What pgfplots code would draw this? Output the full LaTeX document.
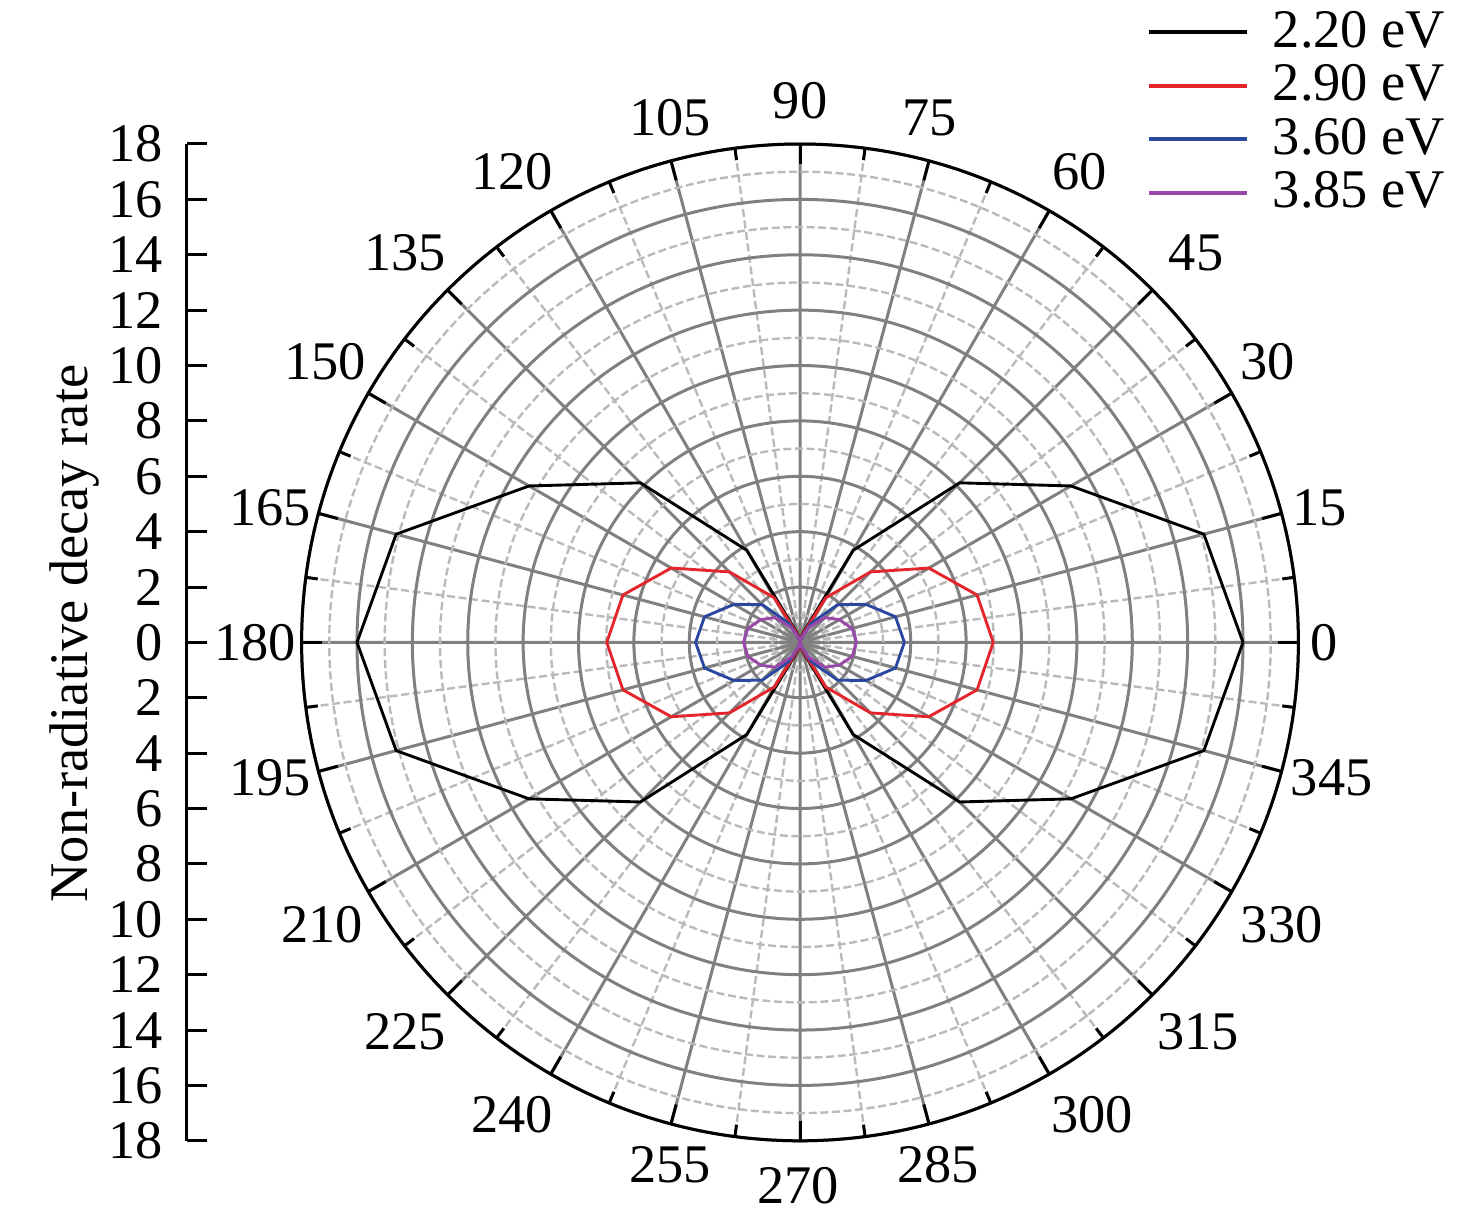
\documentclass[border=0pt]{standalone}
\usepackage{fontspec}
\setmainfont{Liberation Serif}
\usepackage{pgfplots}
\pgfplotsset{compat=1.18}
\usepgfplotslibrary{polar}
\definecolor{cRed}{RGB}{228,38,44}
\definecolor{cBlue}{RGB}{42,72,160}
\definecolor{cPurple}{RGB}{152,72,168}
\begin{document}
\begin{tikzpicture}[font=\fontsize{13.6}{16}\selectfont]
\useasboundingbox (0,0) rectangle (369pt,305.5pt);
% left linear radial scale
\begin{axis}[
  at={(46.675pt,144.9pt)}, anchor=west,
  scale only axis, width=1pt, height=249.2pt,
  hide x axis, axis y line*=left,
  ymin=-18, ymax=18, xmin=0, xmax=1,
  ytick={-18,-16,...,18},
  yticklabels={18,16,14,12,10,8,6,4,2,0,2,4,6,8,10,12,14,16,18},
  tick align=inside, major tick length=5pt,
  y axis line style={line width=0.75pt, black},
  ytick style={line width=0.75pt, black},
  yticklabel style={inner xsep=5.8pt, inner ysep=0pt},
  /pgf/number format/assume math mode=true,
]
\end{axis}
\node[rotate=90, inner sep=0pt] at (18.5pt,147.1pt) {Non-radiative decay rate};
\begin{polaraxis}[
  at={(200pt,144.9pt)}, anchor=center,
  scale only axis, width=249.2pt, height=249.2pt,
  xmin=0, xmax=360, ymin=0, ymax=18,
  xtick={0,15,...,360}, ytick={0,2,...,18},
  minor x tick num=1, minor y tick num=1,
  xticklabels={}, yticklabels={},
  grid=both,
  major grid style={line width=0.75pt, color=black!50},
  minor grid style={line width=0.6pt, color=black!27, dash pattern=on 2pt off 0.9pt},
  x axis line style={line width=0.75pt, black},
  y axis line style={draw=none},
  major tick length=0pt, minor tick length=0pt,
  tick style={draw=none},
  clip=false,
  legend style={at={(1.148,1.134)}, anchor=north east, draw=none, fill=none,
    inner sep=0pt, row sep=2.82pt, column sep=6pt, nodes={inner sep=0pt}},
  legend cell align=left,
  legend image code/.code={\draw[#1, line width=1pt] (0pt,0pt) -- (24.5pt,0pt);},
]
\addplot[black, line width=0.72pt] coordinates {
(0,16.0) (15,15.1) (30,11.3) (45,8.15) (60,3.84) (75,0.3) (90,0)
(105,0.3) (120,3.84) (135,8.15) (150,11.3) (165,15.1) (180,16.0)
(195,15.1) (210,11.3) (225,8.15) (240,3.84) (255,0.3) (270,0)
(285,0.3) (300,3.84) (315,8.15) (330,11.3) (345,15.1) (360,16.0)};
\addlegendentry{2.20 eV}
\addplot[cRed, line width=0.72pt] coordinates {
(0,6.98) (15,6.62) (30,5.37) (45,3.6) (60,1.86) (75,0.25) (90,0)
(105,0.25) (120,1.86) (135,3.6) (150,5.37) (165,6.62) (180,6.98)
(195,6.62) (210,5.37) (225,3.6) (240,1.86) (255,0.25) (270,0)
(285,0.25) (300,1.86) (315,3.6) (330,5.37) (345,6.62) (360,6.98)};
\addlegendentry{2.90 eV}
\addplot[cBlue, line width=0.72pt] coordinates {
(0,3.77) (15,3.57) (30,2.75) (45,1.93) (60,0.8) (75,0.15) (90,0)
(105,0.15) (120,0.8) (135,1.93) (150,2.75) (165,3.57) (180,3.77)
(195,3.57) (210,2.75) (225,1.93) (240,0.8) (255,0.15) (270,0)
(285,0.15) (300,0.8) (315,1.93) (330,2.75) (345,3.57) (360,3.77)};
\addlegendentry{3.60 eV}
\addplot[cPurple, line width=0.72pt] coordinates {
(0,2.04) (15,1.95) (30,1.64) (45,1.27) (60,0.6) (75,0.12) (90,0)
(105,0.12) (120,0.6) (135,1.27) (150,1.64) (165,1.95) (180,2.04)
(195,1.95) (210,1.64) (225,1.27) (240,0.6) (255,0.12) (270,0)
(285,0.12) (300,0.6) (315,1.27) (330,1.64) (345,1.95) (360,2.04)};
\addlegendentry{3.85 eV}
% outer-circle tick marks (pointing inward)
\pgfplotsinvokeforeach{0,15,...,345}{
  \draw[line width=0.75pt, black] (axis cs:#1,18) -- (axis cs:#1,17.278);
}
\pgfplotsinvokeforeach{7.5,22.5,...,352.5}{
  \draw[line width=0.75pt, black] (axis cs:#1,18) -- (axis cs:#1,17.567);
}
% angular labels
\foreach \t/\a/\r in {0/0/18.92,15/14.5/19.39,30/30.93/19.70,45/44.52/20.06,60/59.24/19.77,75/76.08/19.51,90/90/19.55,105/103.92/19.51,120/121.47/19.92,135/135.4/20.03,150/149.44/19.92,165/165.76/19.74,180/180/19.68,195/194.34/19.75,210/210.58/20.05,225/224.6/20.03,240/238.63/19.98,255/256.03/19.44,270/269.8/19.63,285/284.8/19.51,300/301.7/20.06,315/315.6/20.11,330/329.6/20.17,345/345.7/19.82}{
  \edef\tmp{\noexpand\node[anchor=center, inner sep=0pt] at (axis cs:\a,\r) {\t};}\tmp
}
\end{polaraxis}
\end{tikzpicture}
\end{document}
